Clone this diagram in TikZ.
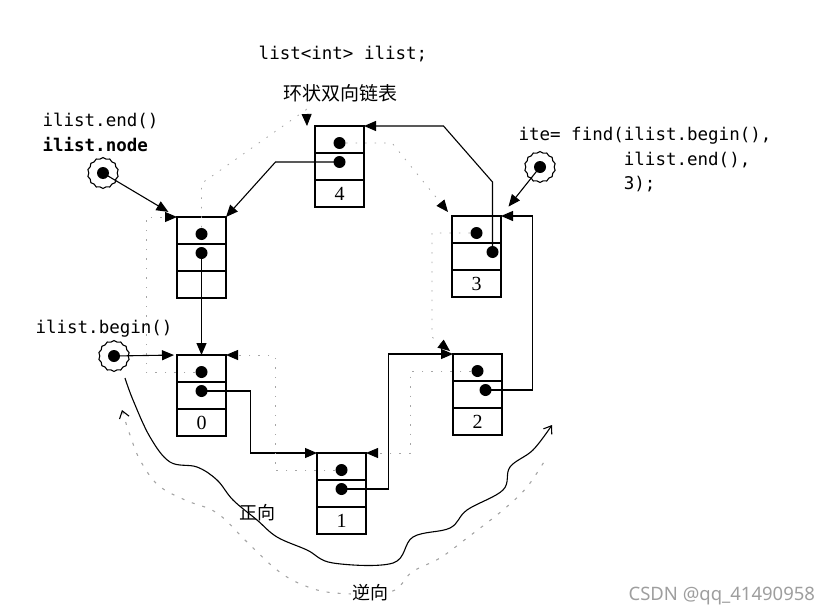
\documentclass[tikz,border=0pt]{standalone}
\usepackage{fontspec}
\setmainfont{Liberation Serif}
\newfontfamily\codefont{DejaVu Sans Mono}
\newfontfamily\cjkfont{Noto Sans CJK SC}
\newfontfamily\markfont{Noto Sans}
\usetikzlibrary{arrows.meta,positioning,shapes.symbols}
\definecolor{faintgray}{RGB}{165,165,165}
\definecolor{markgray}{RGB}{158,158,158}

\begin{document}
\begin{tikzpicture}[
    x=1pt,
    y=-1pt,
    line width=1.1pt,
    >={Triangle[length=12pt,width=10pt]},
    cell/.style={draw,minimum width=49pt,minimum height=27pt,inner sep=0pt,outer sep=0pt,
      font=\fontsize{20}{20}\selectfont},
    ptr/.style={circle,fill=black,inner sep=0pt,minimum size=12pt},
    iter/.style={cloud,cloud puffs=14,cloud puff arc=110,aspect=1,draw,inner sep=0pt,minimum size=31pt},
    code/.style={font=\codefont\fontsize{17.5}{24.5}\selectfont,inner sep=0pt},
    link/.style={->},
    back/.style={faintgray,line width=0.8pt,dash pattern=on 1.5pt off 8pt,
      -{Triangle[length=12pt,width=10pt,color=black]}},
    dirtext/.style={font=\cjkfont\fontsize{18}{18}\selectfont,inner sep=1pt}
]
  \useasboundingbox (0,0) rectangle (834,615);

  \foreach \name/\x/\y/\val/\dx in {head/201.5/230.5/{}/0, n0/201.5/368.5/0/0, n1/341.5/466.5/1/0,
      n2/477.5/367.5/2/8, n3/476.5/229.5/3/16, n4/339.5/139.5/4/0} {
    \node[cell] (\name-p) at (\x,\y) {};
    \node[cell,below=0pt of \name-p] (\name-n) {};
    \node[cell,below=0pt of \name-n] (\name-d) {\val};
    \node[ptr] (\name-pd) at ([yshift=-3.5pt]\name-p.center) {};
    \node[ptr] (\name-nd) at ([xshift=\dx pt,yshift=4.5pt]\name-n.center) {};
  }

  \draw[link] (head-nd.center) -- (n0-p.north);
  \draw[link] (n0-nd.center) -- ++(49,0) |- (n1-p.north west);
  \draw[link] (n1-nd.center) -- ++(47,0) |- (n2-p.north west);
  \draw[link] (n2-nd.center) -- ++(47,0) |- (n3-p.north east);
  \draw[link] (n3-nd.center) -- ++(0,-70) -- ++(-49,-56) -- (n4-p.north east);
  \draw[link] (n4-nd.center) -- ++(-64,0) -- (head-p.north east);

  \draw[back] (n0-pd.west) -- ++(-49,0) |- (head-p.north west);
  \draw[back] (n1-pd.west) -- ++(-60,0) |- (n0-p.north east);
  \draw[back] (n2-pd.west) -- ++(-61,0) |- (n1-p.north east);
  \draw[back] (n3-pd.west) -- ++(-38,0) -- ++(0,104) -- ([shift={(-3pt,3pt)}]n2-p.north west);
  \draw[back] (n4-pd.east) -- ++(46,0) -- ([shift={(-4pt,4pt)}]n3-p.north west);
  \draw[back] (head-pd.north) -- ++(0,-44) -- ++(105,-74) -- ([xshift=-8pt]n4-p.north west);

  \node[iter] (endit) at (103,173) {};
  \node[ptr] (endit-dot) at (endit.center) {};
  \draw[link,shorten >=10pt] (endit-dot.center) -- (head-p.north west);
  \node[iter] (beginit) at (114,356) {};
  \node[ptr] (beginit-dot) at (beginit.center) {};
  \draw[link,shorten >=3pt] (beginit-dot.center) -- (n0-p.north west);
  \node[iter] (iteit) at (540,167) {};
  \node[ptr] (iteit-dot) at (iteit.center) {};
  \draw[link,shorten >=12pt] (iteit-dot.center) -- (n3-p.north east);

  \node[code,anchor=base] (decl) at (343,60) {list<int> ilist;};
  \node[font=\cjkfont\fontsize{19}{19}\selectfont] (ring) at (340,93) {环状双向链表};
  \node[code,anchor=base west] (endlbl) at (42,126) {ilist.end()};
  \node[code,anchor=base west] (nodelbl) at (42,151) {\bfseries ilist.node};
  \node[code,anchor=base west] (beginlbl) at (35,333) {ilist.begin()};
  \node[code,anchor=base west] (ite1) at (518,140) {ite= find(ilist.begin(),};
  \node[code,anchor=base west] (ite2) at (518,165) {\hphantom{ite= find(}ilist.end(),};
  \node[code,anchor=base west] (ite3) at (518,189) {\hphantom{ite= find(}3);};

  \draw[-{Straight Barb[length=7pt,width=10pt]}] plot[smooth,tension=0.6] coordinates {(125,378) (133,400)
    (150,437) (170,462) (197,467) (217,480) (233,500) (257,520) (277,537) (307,550) (333,563)
    (393,563) (413,537) (450,528) (467,510) (503,490) (510,467) (533,450) (552,425)};
  \draw[faintgray,dash pattern=on 3pt off 8pt,{Straight Barb[length=7pt,width=10pt,color=black]}-]
    plot[smooth,tension=0.6] coordinates {(122,410) (130,435) (140,460) (158,485) (185,500)
    (217,513) (247,542) (277,570) (303,585) (335,593) (390,592) (412,572) (440,558) (467,538)
    (503,510) (527,487) (547,457)};
  \node[dirtext] (fwdlbl) at (257,513) {正向};
  \node[dirtext,fill=white] (revlbl) at (370,593) {逆向};

  \node[font=\markfont\fontsize{18.5}{18.5}\selectfont,text=markgray,anchor=base west,inner sep=0pt]
    (mark) at (628,600) {CSDN @qq\_41490958};
\end{tikzpicture}
\end{document}
